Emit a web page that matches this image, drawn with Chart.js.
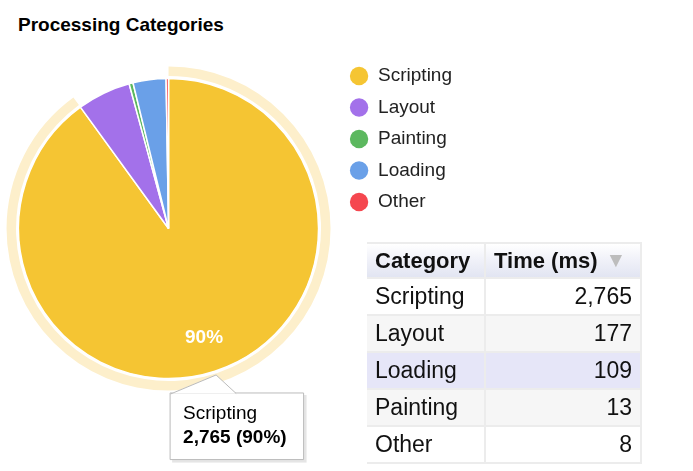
<!DOCTYPE html>
<html>
<head>
<meta charset="utf-8">
<script src="https://cdn.jsdelivr.net/npm/chart.js@4.4.1/dist/chart.umd.min.js"></script>
<style>
  html,body{margin:0;padding:0;background:#fff;}
  body{width:693px;height:471px;position:relative;overflow:hidden;font-family:Arial,"Liberation Sans",sans-serif;}
  #title{position:absolute;left:18px;top:15px;font-size:19px;line-height:20px;font-weight:bold;color:#000;}
  #c{position:absolute;left:0;top:0;}
  #tbl{position:absolute;left:367px;top:242px;border-collapse:collapse;color:#111;}
  #tbl th,#tbl td{padding:0 8px;border:2px solid #ececec;white-space:nowrap;}
  #tbl tr > *:first-child{border-left:none;}
  #tbl th{height:33px;font-size:22px;font-weight:bold;text-align:left;
    background:linear-gradient(to bottom,#ffffff 0%,#f1f2f9 45%,#e2e5f2 100%);}
  #tbl td{height:35px;font-size:23px;}
  #tbl td.num{text-align:right;}
  #tbl th.c1{width:101px;}
  #tbl th.c2{width:138px;}
  #tbl tr.odd td{background:#fff;}
  #tbl tr.even td{background:#f6f6f6;}
  #tbl tr.hi td{background:#e6e6f8;}
  .arr{color:#bdbdbd;font-size:21px;margin-left:8px;vertical-align:1px;}
</style>
</head>
<body>
<div id="title">Processing Categories</div>
<canvas id="c" width="693" height="471"></canvas>
<table id="tbl"></table>
<script>
const categories=['Scripting','Layout','Painting','Loading','Other'];
const timesMs=[2765,177,13,109,8];
const sliceColors=['#f5c533','#a371ea','#5cb85f','#6aa0e8','#f5474f'];
const ringColor='#fdefcb';
const highlighted=0;      // slice with hover ring + tooltip
const tableHover='Loading';

const fmt=v=>v.toLocaleString('en-US');
const total=timesMs.reduce((a,b)=>a+b,0);
const pct=v=>Math.round(v/total*100);

// table (sorted by time, desc)
const rows=categories.map((c,i)=>({c,t:timesMs[i]})).sort((a,b)=>b.t-a.t);
let html='<tr><th class="c1">Category</th><th class="c2">Time (ms)<span class="arr">\u25BC</span></th></tr>';
rows.forEach((r,i)=>{
  const cls=r.c===tableHover?'hi':(i%2?'even':'odd');
  html+='<tr class="'+cls+'"><td>'+r.c+'</td><td class="num">'+fmt(r.t)+'</td></tr>';
});
document.getElementById('tbl').innerHTML=html;

Chart.defaults.font.family='Arial, "Liberation Sans", sans-serif';

function tipPoint(arc){
  const p=arc.getProps(['x','y','startAngle','endAngle','outerRadius'],true);
  const a=(p.startAngle+p.endAngle)/2;
  return {x:p.x+Math.cos(a)*(p.outerRadius+4), y:p.y+Math.sin(a)*(p.outerRadius+4)};
}
Chart.Tooltip.positioners.sliceTip=function(items){
  if(!items.length) return false;
  const t=tipPoint(items[0].element);
  this.chart.$tip=t;
  return {x:t.x-46, y:t.y};
};

const ringPlugin={
  id:'ring',
  afterDatasetsDraw(chart){
    const ctx=chart.ctx;
    const p=chart.getDatasetMeta(0).data[highlighted].getProps(['x','y','startAngle','endAngle','outerRadius'],true);
    ctx.save();
    ctx.beginPath();
    ctx.arc(p.x,p.y,p.outerRadius+12,p.startAngle,p.endAngle);
    ctx.arc(p.x,p.y,p.outerRadius+2.5,p.endAngle,p.startAngle,true);
    ctx.closePath();
    ctx.fillStyle=ringColor; ctx.fill();
    // percent labels on large slices
    ctx.fillStyle='#fff'; ctx.font='bold 19px Arial, "Liberation Sans", sans-serif';
    ctx.textAlign='center'; ctx.textBaseline='middle';
    chart.getDatasetMeta(0).data.forEach((arc,i)=>{
      const v=timesMs[i]; if(pct(v)<10) return;
      const q=arc.getProps(['x','y','startAngle','endAngle','outerRadius'],true);
      const a=(q.startAngle+q.endAngle)/2, r=q.outerRadius*0.767;
      ctx.fillText(pct(v)+'%',q.x+Math.cos(a)*r,q.y+Math.sin(a)*r);
    });
    ctx.restore();
  },
  beforeTooltipDraw(chart,args){
    const t=args.tooltip, ctx=chart.ctx;
    ctx.save();
    ctx.fillStyle='rgba(0,0,0,0.10)';
    ctx.fillRect(t.x+2,t.y+2,t.width+1,t.height+1);
    ctx.restore();
  },
  afterTooltipDraw(chart,args){
    const t=args.tooltip, ctx=chart.ctx, tip=chart.$tip;
    if(!tip) return;
    ctx.save();
    ctx.beginPath();
    ctx.moveTo(t.x+0.5,t.y+0.5); ctx.lineTo(tip.x,tip.y); ctx.lineTo(t.x+66,t.y+0.5);
    ctx.fillStyle='#fff'; ctx.fill();
    ctx.beginPath();
    ctx.moveTo(t.x+0.5,t.y+1); ctx.lineTo(tip.x,tip.y); ctx.lineTo(t.x+66,t.y+0.5);
    ctx.strokeStyle='#bbb'; ctx.lineWidth=1; ctx.stroke();
    ctx.restore();
  }
};

const chart=new Chart(document.getElementById('c'),{
  type:'pie',
  data:{labels:categories,datasets:[{data:timesMs,backgroundColor:sliceColors,borderColor:'#fff',borderWidth:1.5,radius:150,hoverOffset:0}]},
  options:{
    responsive:false,animation:false,events:[],
    layout:{padding:{top:54,bottom:68,left:0,right:231}},
    plugins:{
      legend:{position:'right',align:'start',
        labels:{usePointStyle:true,pointStyle:'circle',boxWidth:19,boxHeight:13,padding:12.5,color:'#222',font:{size:19},
          generateLabels(ch){
            const items=Chart.overrides.pie.plugins.legend.labels.generateLabels(ch);
            items.forEach(it=>{it.lineWidth=0;});
            return items;
          }}},
      tooltip:{enabled:true,position:'sliceTip',xAlign:'left',yAlign:'top',caretSize:0,caretPadding:18,cornerRadius:0,
        backgroundColor:'#fff',borderColor:'#bbb',borderWidth:1,displayColors:false,
        titleColor:'#000',bodyColor:'#000',titleFont:{size:19,weight:'normal'},bodyFont:{size:19,weight:'bold'},
        titleMarginBottom:2,padding:{top:9,bottom:10,left:13,right:17},
        callbacks:{title:items=>items[0].label,label:item=>fmt(item.raw)+' ('+pct(item.raw)+'%)'}}
    }
  },
  plugins:[ringPlugin]
});
chart.tooltip.setActiveElements([{datasetIndex:0,index:highlighted}],{x:0,y:0});
chart.update();
</script>
</body>
</html>
